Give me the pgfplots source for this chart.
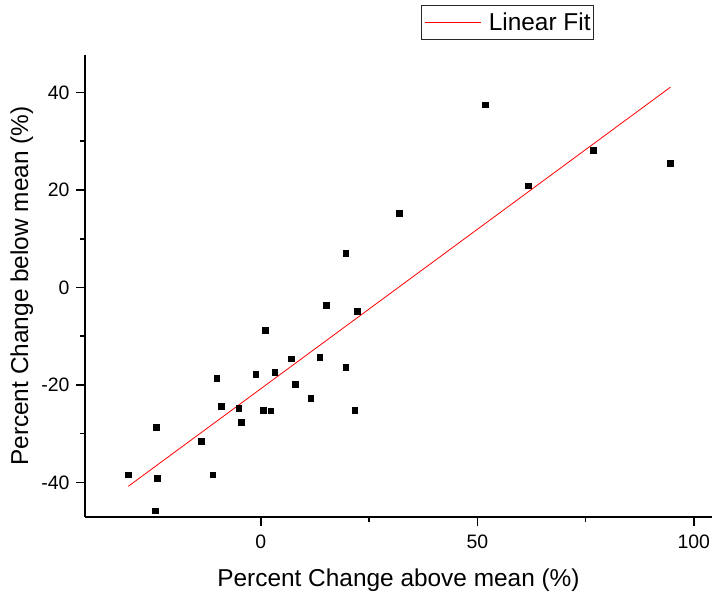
\documentclass[border=0pt]{standalone}
\usepackage{pgfplots}
\pgfplotsset{compat=1.18}
\usepackage{fontspec}
\setmainfont{Liberation Sans}

\pgfplotstableread{
x y
-30.6 -38.4
-24.2 -28.7
-23.9 -39.2
-24.3 -45.8
-13.7 -31.6
-11.1 -38.4
-10.2 -18.6
-9.2 -24.4
-5.1 -24.8
-4.6 -27.7
-1.2 -17.8
1.0 -8.7
0.6 -25.2
2.3 -25.3
3.2 -17.4
7.1 -14.6
8.0 -19.8
11.5 -22.8
13.6 -14.3
15.1 -3.7
19.6 -16.4
21.7 -25.2
22.3 -4.8
19.6 7.1
31.9 15.2
51.8 37.5
61.8 20.9
76.7 28.2
94.5 25.5
}\scatterdata

\pgfplotstableread{
x y
-30.6 -40.8
94.6 41.1
}\fitdata

\begin{document}
\begin{tikzpicture}
\begin{axis}[
  scale only axis,
  width=627bp, height=462bp,
  xmin=-40.6, xmax=104.2,
  ymin=-47.1, ymax=47.7,
  axis x line*=bottom, axis y line*=left,
  axis line style={line width=1.8bp, -},
  tick align=outside,
  major tick length=9bp, minor tick length=5bp,
  tick style={line width=1.6bp, black},
  xtick={0,50,100}, ytick={-40,-20,0,20,40},
  minor x tick num=1, minor y tick num=1,
  /pgf/number format/assume math mode=true,
  tick label style={font=\fontsize{19.5}{22}\selectfont},
  xticklabel style={yshift=-5bp},
  yticklabel style={xshift=-3bp},
  label style={font=\fontsize{24.5}{29}\selectfont},
  xlabel={Percent Change above mean (\%)},
  ylabel={Percent Change below mean (\%)},
  xlabel style={at={(axis description cs:0.5,-0.1515)}, anchor=base, inner sep=0pt},
  ylabel style={at={(axis description cs:-0.0909,0.5)}, anchor=base, inner sep=0pt},
  legend style={at={(axis description cs:0.8118,1.1076)}, anchor=north east,
    draw=black!85, line width=0.8bp, inner xsep=1bp, inner ysep=1bp,
    font=\fontsize{24.5}{29}\selectfont, fill=white},
  legend image code/.code={
    \path[draw=none, fill=none] (-2bp,-16bp) rectangle (62bp,16bp);
    \draw[#1] (0bp,0bp) -- (56bp,0bp);},
  clip=false,
]
\addplot[only marks, mark=square*, mark size=2.9bp, black, forget plot] table {\scatterdata};
\addplot[red, line width=0.8bp] table {\fitdata};
\addlegendentry{Linear Fit}
\end{axis}
\pgfresetboundingbox
\useasboundingbox (-85bp,-79bp) rectangle (629bp,517bp);
\end{tikzpicture}
\end{document}
